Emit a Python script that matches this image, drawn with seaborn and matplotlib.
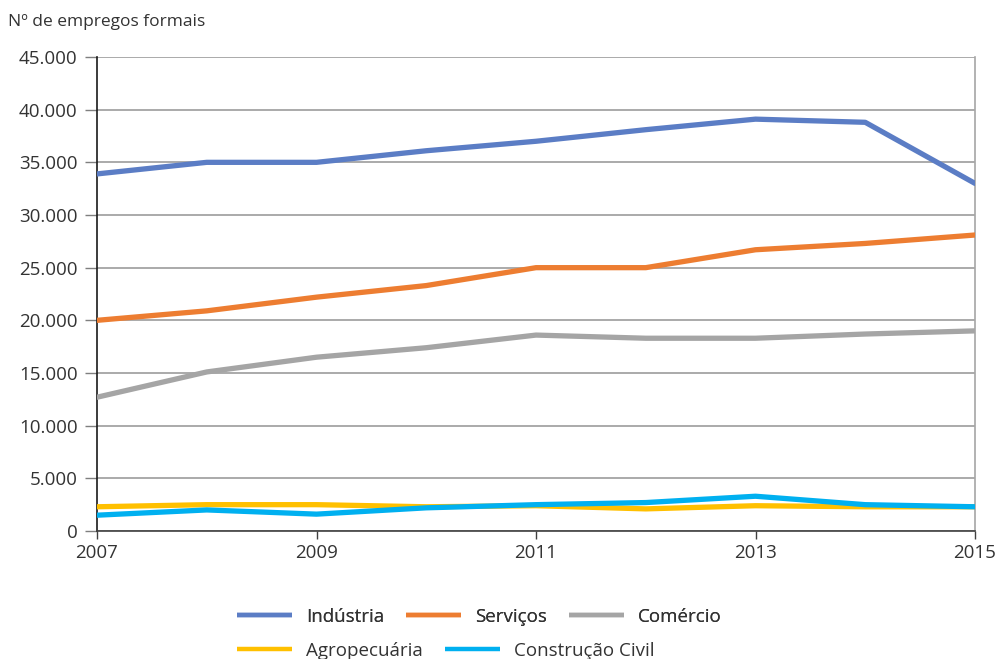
import matplotlib
matplotlib.use("Agg")
import matplotlib.pyplot as plt
import matplotlib.ticker as mticker
from matplotlib.lines import Line2D
import seaborn as sns
import pandas as pd

anos = [2007, 2008, 2009, 2010, 2011, 2012, 2013, 2014, 2015]
industria = [33900, 35000, 35000, 36100, 37000, 38100, 39100, 38800, 33000]
servicos = [20000, 20900, 22200, 23300, 25000, 25000, 26700, 27300, 28100]
comercio = [12700, 15100, 16500, 17400, 18600, 18300, 18300, 18700, 19000]
agropecuaria = [2300, 2500, 2500, 2300, 2400, 2100, 2400, 2300, 2300]
construcao = [1500, 2000, 1600, 2200, 2500, 2700, 3300, 2500, 2300]

setores = ["Indústria", "Serviços", "Comércio", "Agropecuária", "Construção Civil"]
cores = ["#5B7DC5", "#ED7D31", "#A5A5A5", "#FFC000", "#00B0F0"]
yticks = [0, 5000, 10000, 15000, 20000, 25000, 30000, 35000, 40000, 45000]
xticks = [2007, 2009, 2011, 2013, 2015]
titulo = "Nº de empregos formais"

sns.set_theme(style="white")
plt.rcParams["font.family"] = ["Open Sans", "DejaVu Sans"]

series = [industria, servicos, comercio, agropecuaria, construcao]
df = pd.DataFrame({
    "Ano": anos * len(setores),
    "Empregos": [v for s in series for v in s],
    "Setor": [n for n in setores for _ in anos],
})

W, H = 998, 659
fig = plt.figure(figsize=(W / 100, H / 100), dpi=100)
ax = fig.add_axes([97 / W, 1 - 531 / H, (975 - 97) / W, (531 - 57) / H])

sns.lineplot(data=df, x="Ano", y="Empregos", hue="Setor", hue_order=setores,
             palette=dict(zip(setores, cores)), linewidth=3.8, ax=ax,
             legend=False, zorder=3)

ax.set_xlim(2007, 2015)
ax.set_ylim(0, 45000)
ax.set_xticks(xticks)
ax.set_yticks(yticks)
ax.yaxis.set_major_formatter(mticker.FuncFormatter(lambda v, p: f"{int(v):,}".replace(",", ".")))
ax.set_xlabel("")
ax.set_ylabel("")
ax.grid(axis="y", color="#9C9C9C", linewidth=1.2, zorder=0)
ax.grid(axis="x", visible=False)

ax.spines["top"].set_visible(False)
ax.spines["right"].set_color("#A6A6A6")
ax.spines["right"].set_linewidth(1.2)
ax.spines["left"].set_color("#1A1A1A")
ax.spines["left"].set_linewidth(1.2)
ax.spines["bottom"].set_color("#404040")
ax.spines["bottom"].set_linewidth(1.2)

ax.tick_params(axis="y", which="major", direction="out", length=8.5, width=1.0,
               color="#7F7F7F", labelsize=13.5, labelcolor="#333333", pad=5.5, left=True)
ax.tick_params(axis="x", which="major", direction="out", length=6, width=1.0,
               color="#404040", labelsize=13.5, labelcolor="#333333", pad=3, bottom=True)

fig.text(8 / W, 1 - 22 / H, titulo, fontsize=12.5, color="#333333", va="center", ha="left")

handles = [Line2D([0], [0], color=c, linewidth=3.2, solid_capstyle="butt") for c in cores]
common = dict(loc="center left", frameon=False, fontsize=13.5, handlelength=2.95,
              handletextpad=0.75, columnspacing=1.15, labelcolor="#333333")
leg1 = fig.legend(handles[:3], setores[:3], bbox_to_anchor=(220 / W, 1 - 617 / H),
                  ncol=3, **common)
leg2 = fig.legend(handles[3:], setores[3:], bbox_to_anchor=(220 / W, 1 - 651 / H),
                  ncol=2, **common)
fig.add_artist(leg1)

fig.savefig("out.png", dpi=100)
